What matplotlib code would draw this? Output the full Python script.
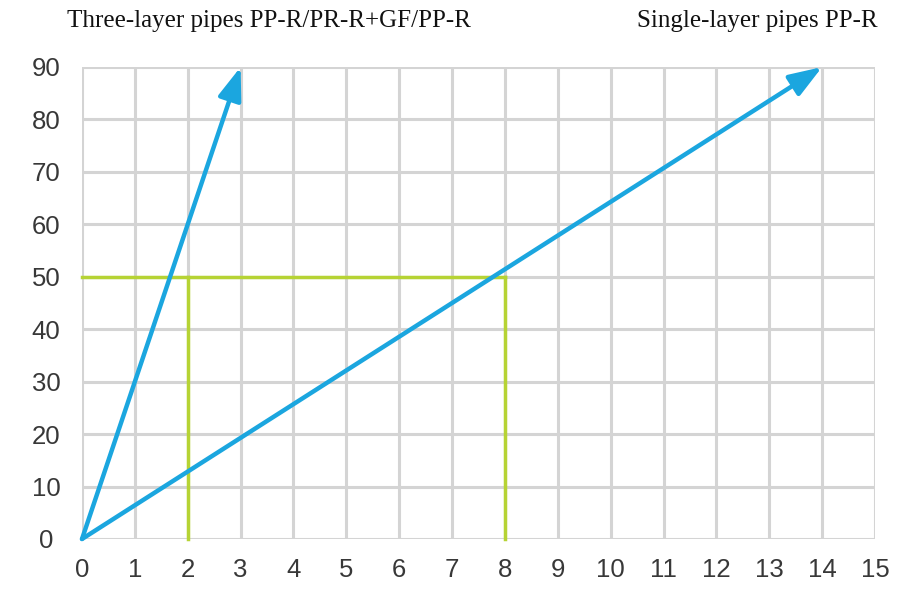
import numpy as np
import matplotlib.pyplot as plt

# pressure vs. elongation-ish reference chart
x_ticks = np.arange(0, 16, 1)
y_ticks = np.arange(0, 100, 10)

three_layer_x = [0, 3]
three_layer_y = [0, 90]
single_layer_x = [0, 14]
single_layer_y = [0, 90]

ref_y = 50
ref_x = [2, 8]

blue = '#1ba6df'
green = '#b6d334'
grid_c = '#d4d4d4'

fig = plt.figure(figsize=(9.13, 5.89), dpi=100)
ax = fig.add_axes([82 / 913, 50 / 589, 793 / 913, 472 / 589])

ax.set_xlim(0, 15)
ax.set_ylim(0, 90)
ax.set_xticks(x_ticks)
ax.set_yticks(y_ticks)
ax.grid(True, color=grid_c, linewidth=2.2, zorder=0)
for s in ax.spines.values():
    s.set_visible(False)
ax.tick_params(length=0, labelsize=18.5, labelcolor='#383838')
ax.tick_params(axis='y', pad=26)
ax.tick_params(axis='x', pad=14)
for lab in ax.get_xticklabels() + ax.get_yticklabels():
    lab.set_fontfamily('Liberation Sans')
for lab in ax.get_yticklabels():
    lab.set_horizontalalignment('center')
ax.set_axisbelow(True)

# green reference lines
ax.plot([0, max(ref_x)], [ref_y, ref_y], color=green, linewidth=2.5, zorder=2, clip_on=False)
for xv in ref_x:
    ax.plot([xv, xv], [0, ref_y], color=green, linewidth=2.5, zorder=2, clip_on=False)

# arrows
for xs, ys in [(three_layer_x, three_layer_y), (single_layer_x, single_layer_y)]:
    ax.annotate('', xy=(xs[1], ys[1]), xytext=(xs[0], ys[0]),
                arrowprops=dict(arrowstyle='-|>,head_length=1.0,head_width=0.36',
                                color=blue, lw=3.2, mutation_scale=20,
                                shrinkA=0, shrinkB=0),
                annotation_clip=False, zorder=3)

fig.text(67 / 913, 1 - 27 / 589, 'Three-layer pipes PP-R/PR-R+GF/PP-R',
         fontfamily='Liberation Serif', fontsize=18, ha='left', va='baseline', color='#111111')
fig.text(878 / 913, 1 - 27 / 589, 'Single-layer pipes PP-R',
         fontfamily='Liberation Serif', fontsize=18, ha='right', va='baseline', color='#111111')

fig.savefig('out.png', dpi=100)
